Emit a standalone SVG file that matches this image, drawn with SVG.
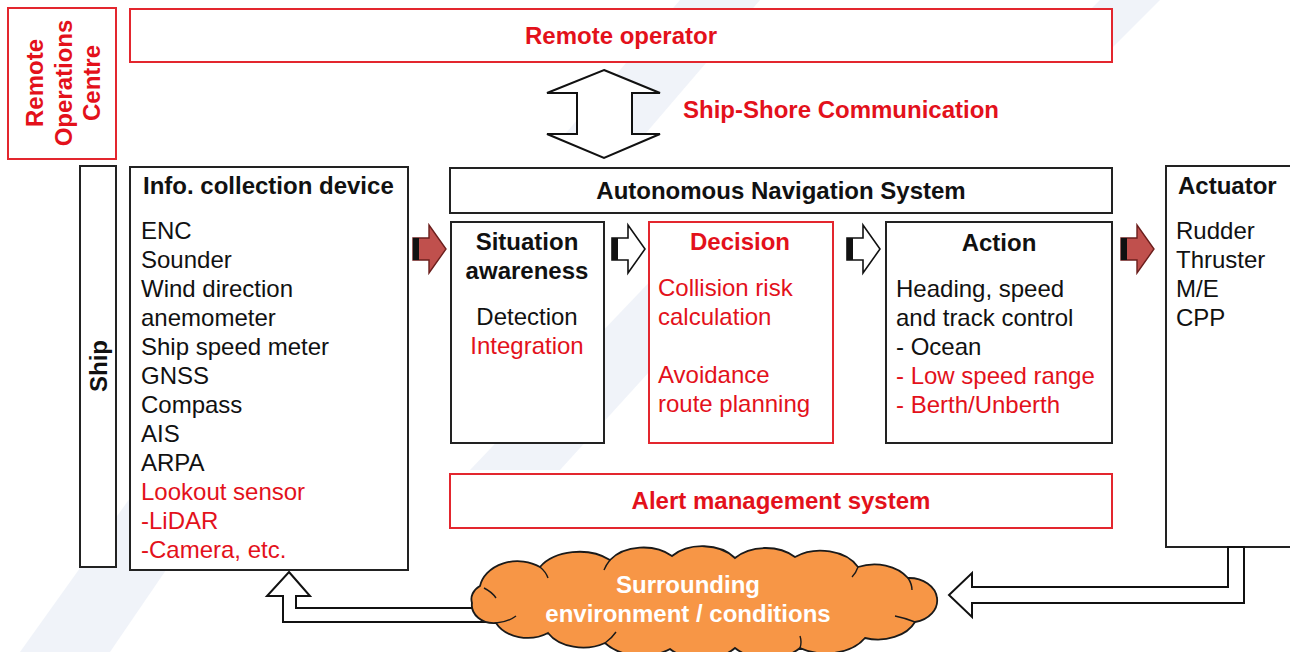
<svg xmlns="http://www.w3.org/2000/svg" width="1290" height="652" viewBox="0 0 1290 652">
<style>
text{font-family:"Liberation Sans",Arial,Helvetica,sans-serif;font-size:24px;fill:#111}
.b{font-weight:bold}
.r{fill:#E3111B}
.w{fill:#ffffff}
.m{text-anchor:middle}
.bx{fill:#fff;stroke:#222;stroke-width:2}
.rbx{fill:#fff;stroke:#E3262E;stroke-width:2}
.ha{fill:#fff;stroke:#111;stroke-width:2;stroke-linejoin:miter}
.wm{fill:#E9EEF6;opacity:0.7}
</style>
<defs>
<g id="arrW">
<polygon points="0,-11 16,-11 16,-24 33,0 16,24 16,11 0,11" fill="#fff" stroke="#111" stroke-width="1.6"/>
<rect x="0" y="-11" width="6" height="22" fill="#111"/>
</g>
<g id="arrR">
<polygon points="0,-11 16,-11 16,-24 33,0 16,24 16,11 0,11" fill="#C0504D" stroke="#6B1E1C" stroke-width="1.4"/>
<rect x="0" y="-11" width="6" height="22" fill="#111"/>
</g>
</defs>
<rect width="1290" height="652" fill="#fff"/>
<g id="watermark">
<polygon class="wm" points="20,652 110,652 330,330 250,330"/>
<polygon class="wm" points="560,140 640,140 760,0 680,0"/>
<polygon class="wm" points="1040,60 1100,60 1160,0 1100,0"/>
<polygon class="wm" points="470,470 560,470 760,250 680,250"/>
</g>
<g id="remote-ops-centre">
<rect class="rbx" x="8" y="8" width="108" height="151"/>
<g transform="translate(0,83) rotate(-90)">
<text class="b r m" x="0" y="43">Remote</text>
<text class="b r m" x="0" y="72">Operations</text>
<text class="b r m" x="0" y="100">Centre</text>
</g>
</g>
<g id="remote-operator">
<rect class="rbx" x="130" y="9" width="982" height="53"/>
<text class="b r m" x="621" y="44">Remote operator</text>
</g>
<g id="ship-shore">
<polygon class="ha" points="604,70 660,93 632,93 632,134 660,134 604,158 547,134 577,134 577,93 547,93"/>
<text class="b r" x="683" y="118">Ship-Shore Communication</text>
</g>
<g id="ship">
<rect class="bx" x="80" y="166" width="36" height="401"/>
<g transform="translate(0,366) rotate(-90)">
<text class="b m" x="0" y="107">Ship</text>
</g>
</g>
<g id="info">
<rect class="bx" x="130" y="167" width="278" height="403"/>
<text class="b" x="143" y="194">Info. collection device</text>
<text x="141" y="239">ENC</text>
<text x="141" y="268">Sounder</text>
<text x="141" y="297">Wind direction</text>
<text x="141" y="326">anemometer</text>
<text x="141" y="355">Ship speed meter</text>
<text x="141" y="384">GNSS</text>
<text x="141" y="413">Compass</text>
<text x="141" y="442">AIS</text>
<text x="141" y="471">ARPA</text>
<text class="r" x="141" y="500">Lookout sensor</text>
<text class="r" x="141" y="529">-LiDAR</text>
<text class="r" x="141" y="558">-Camera, etc.</text>
</g>
<g id="ans">
<rect class="bx" x="450" y="168" width="662" height="45"/>
<text class="b m" x="781" y="199">Autonomous Navigation System</text>
</g>
<g id="situation">
<rect class="bx" x="451" y="222" width="153" height="221"/>
<text class="b m" x="527" y="250">Situation</text>
<text class="b m" x="527" y="279">awareness</text>
<text class="m" x="527" y="325">Detection</text>
<text class="r m" x="527" y="354">Integration</text>
</g>
<g id="decision">
<rect class="rbx" x="649" y="222" width="184" height="221"/>
<text class="b r m" x="740" y="250">Decision</text>
<text class="r" x="658" y="296">Collision risk</text>
<text class="r" x="658" y="325">calculation</text>
<text class="r" x="658" y="383">Avoidance</text>
<text class="r" x="658" y="412">route planning</text>
</g>
<g id="action">
<rect class="bx" x="886" y="222" width="226" height="221"/>
<text class="b m" x="999" y="251">Action</text>
<text x="896" y="297">Heading, speed</text>
<text x="896" y="326">and track control</text>
<text x="896" y="355">- Ocean</text>
<text class="r" x="896" y="384">- Low speed range</text>
<text class="r" x="896" y="413">- Berth/Unberth</text>
</g>
<g id="alert">
<rect class="rbx" x="450" y="474" width="662" height="54"/>
<text class="b r m" x="781" y="509">Alert management system</text>
</g>
<g id="actuator">
<rect class="bx" x="1166" y="166" width="130" height="381"/>
<text class="b" x="1178" y="194">Actuator</text>
<text x="1176" y="239">Rudder</text>
<text x="1176" y="268">Thruster</text>
<text x="1176" y="297">M/E</text>
<text x="1176" y="326">CPP</text>
</g>
<g id="connectors">
<use href="#arrR" transform="translate(413,249)"/>
<use href="#arrW" transform="translate(612,249)"/>
<use href="#arrW" transform="translate(847,249)"/>
<use href="#arrR" transform="translate(1121,249)"/>
<polygon class="ha" points="289,572 310,596 296,596 296,608 520,608 520,622 283,622 283,596 267,596"/>
<polygon class="ha" points="1228,547 1244,547 1244,603 972,603 972,617 949,595 972,573 972,587 1228,587"/>
</g>
<g id="environment">
<path d="M480,586 A38,30 0 0 1 540,567 A45,30 0 0 1 610,560 A40,28 0 0 1 672,556 A40,28 0 0 1 735,558 A40,28 0 0 1 795,557 A42,30 0 0 1 858,567 A40,30 0 0 1 908,578 A28,22 0 0 1 937,598 A28,22 0 0 1 915,622 A40,28 0 0 1 865,638 A45,30 0 0 1 800,648 A42,28 0 0 1 735,648 A42,28 0 0 1 670,649 A45,30 0 0 1 605,643 A40,28 0 0 1 548,633 A35,26 0 0 1 496,623 A22,18 0 0 1 472,603 A20,16 0 0 1 480,586 Z" fill="#F79646" stroke="#1a1a1a" stroke-width="1.8"/>
<g fill="none" stroke="#1a1a1a" stroke-width="1.4">
<path d="M484,588 Q492,592 496,598"/>
<path d="M540,567 Q546,572 548,578"/>
<path d="M610,560 Q606,565 604,570"/>
<path d="M858,567 Q856,573 852,577"/>
<path d="M908,578 Q912,584 912,590"/>
<path d="M915,622 Q905,618 895,616"/>
<path d="M800,648 Q802,642 800,636"/>
<path d="M605,643 Q612,638 616,632"/>
<path d="M496,623 Q508,622 516,616"/>
</g>
<text class="b w m" x="688" y="593">Surrounding</text>
<text class="b w m" x="688" y="622">environment / conditions</text>
</g>
</svg>
